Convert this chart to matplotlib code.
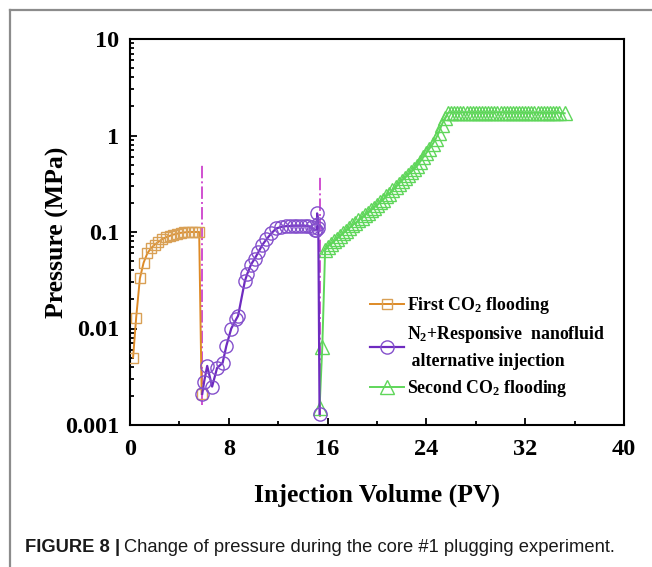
import matplotlib
matplotlib.use("Agg")
import matplotlib.pyplot as plt
from matplotlib.lines import Line2D
from matplotlib.ticker import FixedLocator, LogLocator, NullFormatter

# ---------------- data ----------------
x_first = [0.25, 0.5, 0.8, 1.1, 1.4, 1.7, 2.0, 2.3, 2.6, 2.9, 3.2, 3.5, 3.8,
           4.1, 4.4, 4.7, 5.0, 5.3, 5.6, 5.8]
p_first = [0.005, 0.013, 0.033, 0.048, 0.060, 0.068, 0.074, 0.079, 0.084,
           0.088, 0.091, 0.094, 0.096, 0.098, 0.099, 0.100, 0.100, 0.100,
           0.100, 0.0021]

x_alt = [5.85, 6.0, 6.25, 6.65, 7.05, 7.5, 7.8, 8.2, 8.6, 8.75, 9.3, 9.5, 9.8,
         10.1, 10.4, 10.7, 11.05, 11.45, 11.85, 12.25, 12.65, 12.95, 13.25,
         13.55, 13.85, 14.15, 14.45, 14.7, 14.95, 15.1, 15.2, 15.15, 15.25,
         15.35]
p_alt = [0.0021, 0.0028, 0.0041, 0.0025, 0.0039, 0.0044, 0.0066, 0.0100,
         0.0125, 0.0135, 0.031, 0.037, 0.046, 0.053, 0.062, 0.073, 0.084,
         0.097, 0.109, 0.113, 0.115, 0.115, 0.116, 0.116, 0.116, 0.116, 0.115,
         0.113, 0.104, 0.105, 0.122, 0.156, 0.110, 0.0013]

x_second = [15.35, 15.57, 15.8, 16.0, 16.25, 16.5, 16.75, 17.0, 17.25, 17.5,
            17.75, 18.0, 18.25, 18.5, 18.75, 19.0, 19.25, 19.5, 19.75, 20.0,
            20.25, 20.5, 20.75, 21.0, 21.25, 21.5, 21.75, 22.0, 22.25, 22.5,
            22.75, 23.0, 23.25, 23.5, 23.75, 24.0, 24.25, 24.5, 24.75, 25.0,
            25.25, 25.5, 25.75, 26.0, 26.25, 26.5, 26.75, 27.0, 27.25, 27.5,
            27.75, 28.0, 28.25, 28.5, 28.75, 29.0, 29.25, 29.5, 29.75, 30.0,
            30.25, 30.5, 30.75, 31.0, 31.25, 31.5, 31.75, 32.0, 32.25, 32.5,
            32.75, 33.0, 33.25, 33.5, 33.75, 34.0, 34.25, 34.5, 34.75, 35.2]
p_second = [0.0015, 0.0065, 0.065, 0.0705, 0.075, 0.080, 0.085, 0.091, 0.097,
            0.103, 0.110, 0.117, 0.124, 0.132, 0.140, 0.149, 0.158, 0.169,
            0.179, 0.190, 0.203, 0.217, 0.234, 0.250, 0.270, 0.290, 0.315,
            0.340, 0.363, 0.390, 0.417, 0.447, 0.484, 0.537, 0.596, 0.660,
            0.733, 0.810, 0.920, 1.07, 1.30, 1.51, 1.72, 1.73, 1.73, 1.73,
            1.73, 1.73, 1.73, 1.73, 1.73, 1.73, 1.73, 1.73, 1.73, 1.73, 1.73,
            1.73, 1.73, 1.73, 1.73, 1.73, 1.73, 1.73, 1.73, 1.73, 1.73, 1.72,
            1.72, 1.72, 1.72, 1.72, 1.72, 1.72, 1.72, 1.72, 1.72, 1.72, 1.72,
            1.70]

# switch markers (dash-dot verticals)
switch_x = [5.87, 15.4]
switch_lo = [0.0016, 0.0012]
switch_hi = [0.52, 0.37]

labels = ["First CO$_2$ flooding",
          "N$_2$+Responsive  nanofluid\n alternative injection",
          "Second CO$_2$ flooding"]

x_ticks = [0, 8, 16, 24, 32, 40]
x_minor = [4, 12, 20, 28, 36]
y_ticks = [0.001, 0.01, 0.1, 1, 10]
y_ticklabels = ["0.001", "0.01", "0.1", "1", "10"]

# ---------------- style ----------------
serif = ["Liberation Serif", "DejaVu Serif"]
plt.rcParams["font.family"] = serif
plt.rcParams["font.weight"] = "bold"
plt.rcParams["mathtext.fontset"] = "custom"
plt.rcParams["mathtext.rm"] = "Liberation Serif:bold"
plt.rcParams["mathtext.it"] = "Liberation Serif:bold"
plt.rcParams["mathtext.bf"] = "Liberation Serif:bold"
plt.rcParams["mathtext.default"] = "rm"

c_or = "#DE8A26"
c_pu = "#6E2BC0"
c_pu_m = "#8450CC"
c_gr = "#5FD65A"
c_mag = "#D050D0"

fig = plt.figure(figsize=(6.52, 5.67), dpi=100)
ax = fig.add_axes([130/652, 1-425/567, (624-130)/652, (425-39)/567])

l1, = ax.plot(x_first, p_first, "-", color=c_or, lw=1.4, marker="s", ms=7.5,
              mfc="none", mec="#D9A055", mew=1.0, label=labels[0], zorder=3)
l2, = ax.plot(x_alt, p_alt, "-", color=c_pu, lw=1.6, marker="o", ms=9.5,
              mfc="none", mec=c_pu_m, mew=1.0, label=labels[1], zorder=4)
l3, = ax.plot(x_second, p_second, "-", color=c_gr, lw=1.4, marker="^", ms=9.5,
              mfc="none", mec=c_gr, mew=1.0, label=labels[2], zorder=3)

for xs, lo, hi in zip(switch_x, switch_lo, switch_hi):
    ax.plot([xs, xs], [lo, hi], color=c_mag, lw=1.4, ls="-.", zorder=2)

ax.set_yscale("log")
ax.set_xlim(0, 40)
ax.set_ylim(0.001, 10)
ax.xaxis.set_major_locator(FixedLocator(x_ticks))
ax.xaxis.set_minor_locator(FixedLocator(x_minor))
ax.set_xticklabels([str(t) for t in x_ticks])
ax.yaxis.set_major_locator(FixedLocator(y_ticks))
ax.set_yticklabels(y_ticklabels)
ax.yaxis.set_minor_locator(LogLocator(base=10, subs=range(2, 10)))
ax.yaxis.set_minor_formatter(NullFormatter())

ax.tick_params(axis="both", which="both", direction="in", top=False,
               right=False, width=1.3)
ax.tick_params(axis="both", which="major", length=5, labelsize=17.5)
ax.tick_params(axis="x", which="major", pad=10)
ax.tick_params(axis="y", which="major", pad=8)
ax.tick_params(axis="both", which="minor", length=3)
for s in ax.spines.values():
    s.set_linewidth(1.5)
for lab in ax.get_xticklabels() + ax.get_yticklabels():
    lab.set_fontweight("bold")

ax.set_xlabel("Injection Volume (PV)", fontsize=18.5, fontweight="bold",
              labelpad=17)
ax.set_ylabel("Pressure (MPa)", fontsize=18.5, fontweight="bold", labelpad=-3)

leg = ax.legend(handles=[l1, l2, l3], loc="upper left",
                bbox_to_anchor=((370-130)/494, (425-295)/386),
                frameon=False, handlelength=1.9,
                handletextpad=0.2, labelspacing=0.45, borderaxespad=0,
                borderpad=0, prop={"family": serif, "weight": "bold",
                                   "size": 12.8})
leg.get_texts()[1].set_linespacing(1.6)

# figure frame (gray border on left and top)
fig.add_artist(Line2D([10/652, 10/652], [0, 1-10/567], transform=fig.transFigure,
                      color="#8c8c8c", lw=1.6))
fig.add_artist(Line2D([10/652, 1], [1-10/567, 1-10/567], transform=fig.transFigure,
                      color="#8c8c8c", lw=1.6))

# caption
sans = ["Liberation Sans", "DejaVu Sans"]
t1 = fig.text(25/652, 1-548/567, "FIGURE 8 |", family=sans, weight="bold",
              fontsize=13.2, va="center", ha="left", color="#1a1a1a")
fig.canvas.draw()
bb = t1.get_window_extent()
fig.text((bb.x1 + 4)/652, 1-548/567,
         "Change of pressure during the core #1 plugging experiment.",
         family=sans, weight="normal", fontsize=13.2, va="center", ha="left",
         color="#1a1a1a")

fig.savefig("out.png", dpi=100)
